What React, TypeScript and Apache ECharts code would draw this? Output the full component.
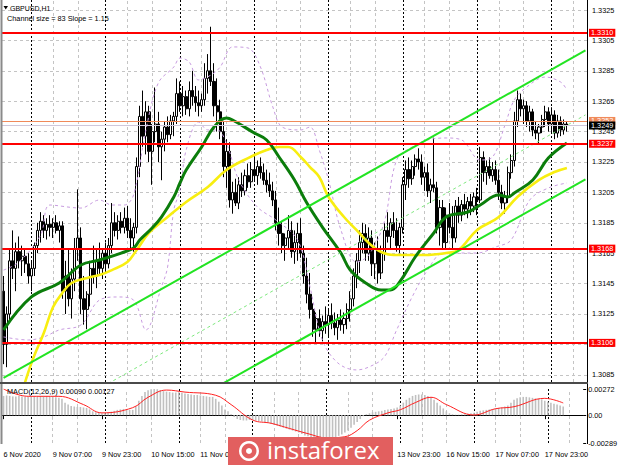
import React, { useEffect, useRef } from "react";
import * as echarts from "echarts";

const FONT = '"Liberation Sans", Arial, sans-serif';

const symbolTitle = "GBPUSD,H1";
const channelInfo = "Channel size = 83 Slope = 1.15";
const macdTitle = "MACD(12,26,9) 0.00090 0.00127";
const brand = "instaforex";

// H1 candles [open, high, low, close], grouped by day
const nov06 = [
  [1.3140, 1.3150, 1.3092, 1.3105], [1.3105, 1.3130, 1.3090, 1.3125], [1.3125, 1.3168, 1.3120, 1.3160],
  [1.3160, 1.3180, 1.3148, 1.3155], [1.3155, 1.3172, 1.3140, 1.3166], [1.3166, 1.3176, 1.3155, 1.3160],
  [1.3160, 1.3170, 1.3150, 1.3163], [1.3163, 1.3168, 1.3152, 1.3158], [1.3158, 1.3165, 1.3145, 1.3150],
];
const nov09 = [
  [1.3150, 1.3160, 1.3140, 1.3155], [1.3155, 1.3172, 1.3150, 1.3170], [1.3170, 1.3185, 1.3165, 1.3180],
  [1.3180, 1.3192, 1.3172, 1.3186], [1.3186, 1.3190, 1.3175, 1.3180], [1.3180, 1.3188, 1.3174, 1.3184],
  [1.3184, 1.3190, 1.3176, 1.3182], [1.3182, 1.3188, 1.3175, 1.3185], [1.3185, 1.3190, 1.3178, 1.3180],
  [1.3180, 1.3186, 1.3172, 1.3183], [1.3183, 1.3186, 1.3135, 1.3140], [1.3140, 1.3160, 1.3125, 1.3150],
  [1.3150, 1.3168, 1.3130, 1.3135], [1.3135, 1.3155, 1.3122, 1.3148], [1.3148, 1.3175, 1.3140, 1.3168],
  [1.3168, 1.3207, 1.3160, 1.3175], [1.3175, 1.3182, 1.3125, 1.3135], [1.3135, 1.3150, 1.3118, 1.3128],
  [1.3128, 1.3140, 1.3115, 1.3138], [1.3138, 1.3160, 1.3130, 1.3155], [1.3155, 1.3170, 1.3145, 1.3150],
  [1.3150, 1.3168, 1.3142, 1.3160], [1.3160, 1.3172, 1.3150, 1.3155], [1.3155, 1.3168, 1.3148, 1.3165],
];
const nov10 = [
  [1.3165, 1.3172, 1.3152, 1.3158], [1.3158, 1.3175, 1.3155, 1.3170], [1.3170, 1.3198, 1.3165, 1.3185],
  [1.3185, 1.3192, 1.3176, 1.3180], [1.3180, 1.3190, 1.3174, 1.3186], [1.3186, 1.3192, 1.3178, 1.3182],
  [1.3182, 1.3195, 1.3178, 1.3188], [1.3188, 1.3196, 1.3175, 1.3180], [1.3180, 1.3188, 1.3168, 1.3175],
  [1.3175, 1.3185, 1.3166, 1.3182], [1.3182, 1.3228, 1.3178, 1.3222], [1.3222, 1.3262, 1.3215, 1.3255],
  [1.3255, 1.3272, 1.3235, 1.3242], [1.3242, 1.3265, 1.3230, 1.3258], [1.3258, 1.3262, 1.3225, 1.3232],
  [1.3232, 1.3250, 1.3210, 1.3245], [1.3245, 1.3274, 1.3238, 1.3250], [1.3250, 1.3258, 1.3225, 1.3235],
  [1.3235, 1.3245, 1.3213, 1.3240], [1.3240, 1.3252, 1.3232, 1.3248], [1.3248, 1.3255, 1.3238, 1.3243],
  [1.3243, 1.3256, 1.3240, 1.3252], [1.3252, 1.3258, 1.3242, 1.3255], [1.3255, 1.3280, 1.3250, 1.3270],
];
const nov11 = [
  [1.3270, 1.3278, 1.3258, 1.3262], [1.3262, 1.3275, 1.3255, 1.3268], [1.3268, 1.3272, 1.3256, 1.3260],
  [1.3260, 1.3278, 1.3255, 1.3272], [1.3272, 1.3285, 1.3262, 1.3268], [1.3268, 1.3275, 1.3258, 1.3264],
  [1.3264, 1.3272, 1.3255, 1.3262], [1.3262, 1.3270, 1.3258, 1.3266], [1.3266, 1.3290, 1.3262, 1.3280],
  [1.3280, 1.3296, 1.3270, 1.3285], [1.3285, 1.3314, 1.3275, 1.3278], [1.3278, 1.3290, 1.3255, 1.3262],
  [1.3262, 1.3280, 1.3245, 1.3258], [1.3258, 1.3266, 1.3240, 1.3245], [1.3245, 1.3252, 1.3215, 1.3222],
  [1.3222, 1.3240, 1.3208, 1.3232], [1.3232, 1.3238, 1.3195, 1.3200], [1.3200, 1.3212, 1.3191, 1.3205],
  [1.3205, 1.3214, 1.3196, 1.3198], [1.3198, 1.3215, 1.3194, 1.3210], [1.3210, 1.3218, 1.3202, 1.3206],
  [1.3206, 1.3220, 1.3203, 1.3216], [1.3216, 1.3224, 1.3208, 1.3212], [1.3212, 1.3225, 1.3208, 1.3220],
];
const nov12 = [
  [1.3220, 1.3228, 1.3212, 1.3216], [1.3216, 1.3226, 1.3210, 1.3222], [1.3222, 1.3228, 1.3214, 1.3218],
  [1.3218, 1.3224, 1.3210, 1.3213], [1.3213, 1.3220, 1.3205, 1.3210], [1.3210, 1.3218, 1.3202, 1.3206],
  [1.3206, 1.3212, 1.3196, 1.3200], [1.3200, 1.3206, 1.3180, 1.3185], [1.3185, 1.3195, 1.3170, 1.3178],
  [1.3178, 1.3186, 1.3165, 1.3170], [1.3170, 1.3178, 1.3160, 1.3175], [1.3175, 1.3190, 1.3168, 1.3180],
  [1.3180, 1.3186, 1.3162, 1.3166], [1.3166, 1.3180, 1.3158, 1.3172], [1.3172, 1.3185, 1.3160, 1.3178],
  [1.3178, 1.3188, 1.3162, 1.3165], [1.3165, 1.3170, 1.3145, 1.3150], [1.3150, 1.3162, 1.3132, 1.3138],
  [1.3138, 1.3152, 1.3122, 1.3128], [1.3128, 1.3132, 1.3110, 1.3115], [1.3115, 1.3126, 1.3106, 1.3122],
  [1.3122, 1.3128, 1.3110, 1.3114], [1.3114, 1.3124, 1.3107, 1.3120], [1.3120, 1.3130, 1.3112, 1.3118],
];
const nov13 = [
  [1.3118, 1.3128, 1.3110, 1.3124], [1.3124, 1.3132, 1.3115, 1.3119], [1.3119, 1.3126, 1.3111, 1.3116],
  [1.3116, 1.3125, 1.3108, 1.3121], [1.3121, 1.3128, 1.3114, 1.3118], [1.3118, 1.3126, 1.3112, 1.3122],
  [1.3122, 1.3132, 1.3115, 1.3128], [1.3128, 1.3140, 1.3120, 1.3135], [1.3135, 1.3155, 1.3130, 1.3150],
  [1.3150, 1.3165, 1.3142, 1.3160], [1.3160, 1.3180, 1.3152, 1.3172], [1.3172, 1.3185, 1.3165, 1.3178],
  [1.3178, 1.3184, 1.3160, 1.3165], [1.3165, 1.3182, 1.3160, 1.3175], [1.3175, 1.3180, 1.3150, 1.3158],
  [1.3158, 1.3172, 1.3148, 1.3168], [1.3168, 1.3176, 1.3145, 1.3152], [1.3152, 1.3170, 1.3148, 1.3165],
  [1.3165, 1.3185, 1.3160, 1.3180], [1.3180, 1.3192, 1.3172, 1.3176], [1.3176, 1.3188, 1.3168, 1.3185],
  [1.3185, 1.3192, 1.3175, 1.3180], [1.3180, 1.3188, 1.3166, 1.3170], [1.3170, 1.3185, 1.3165, 1.3182],
];
const nov16 = [
  [1.3182, 1.3215, 1.3178, 1.3210], [1.3210, 1.3226, 1.3200, 1.3220], [1.3220, 1.3228, 1.3208, 1.3214],
  [1.3214, 1.3226, 1.3210, 1.3222], [1.3222, 1.3230, 1.3216, 1.3227], [1.3227, 1.3234, 1.3220, 1.3225],
  [1.3225, 1.3230, 1.3210, 1.3215], [1.3215, 1.3222, 1.3206, 1.3218], [1.3218, 1.3224, 1.3202, 1.3206],
  [1.3206, 1.3214, 1.3198, 1.3210], [1.3210, 1.3241, 1.3205, 1.3208], [1.3208, 1.3212, 1.3178, 1.3182],
  [1.3182, 1.3200, 1.3170, 1.3195], [1.3195, 1.3200, 1.3168, 1.3172], [1.3172, 1.3195, 1.3168, 1.3190],
  [1.3190, 1.3198, 1.3178, 1.3182], [1.3182, 1.3196, 1.3168, 1.3175], [1.3175, 1.3200, 1.3172, 1.3196],
  [1.3196, 1.3202, 1.3185, 1.3190], [1.3190, 1.3200, 1.3186, 1.3197], [1.3197, 1.3204, 1.3190, 1.3194],
  [1.3194, 1.3202, 1.3188, 1.3199], [1.3199, 1.3204, 1.3190, 1.3196], [1.3196, 1.3205, 1.3192, 1.3202],
];
const nov17 = [
  [1.3202, 1.3208, 1.3190, 1.3200], [1.3200, 1.3235, 1.3198, 1.3228], [1.3228, 1.3232, 1.3212, 1.3218],
  [1.3218, 1.3226, 1.3210, 1.3222], [1.3222, 1.3228, 1.3214, 1.3216], [1.3216, 1.3225, 1.3212, 1.3220],
  [1.3220, 1.3226, 1.3210, 1.3213], [1.3213, 1.3220, 1.3200, 1.3205], [1.3205, 1.3210, 1.3194, 1.3198],
  [1.3198, 1.3206, 1.3191, 1.3202], [1.3202, 1.3222, 1.3198, 1.3218], [1.3218, 1.3230, 1.3214, 1.3226],
  [1.3226, 1.3258, 1.3222, 1.3252], [1.3252, 1.3272, 1.3248, 1.3266], [1.3266, 1.3270, 1.3255, 1.3260],
  [1.3260, 1.3266, 1.3250, 1.3262], [1.3262, 1.3265, 1.3248, 1.3252], [1.3252, 1.3262, 1.3245, 1.3258],
  [1.3258, 1.3260, 1.3242, 1.3246], [1.3246, 1.3252, 1.3240, 1.3244], [1.3244, 1.3250, 1.3237, 1.3248],
  [1.3248, 1.3256, 1.3244, 1.3253], [1.3253, 1.3262, 1.3248, 1.3258], [1.3258, 1.3261, 1.3245, 1.3250],
];
const nov18 = [
  [1.3250, 1.3261, 1.3244, 1.3256], [1.3256, 1.3259, 1.3240, 1.3244], [1.3244, 1.3256, 1.3241, 1.3252],
  [1.3252, 1.3255, 1.3242, 1.3246], [1.3246, 1.3253, 1.3243, 1.3250], [1.3250, 1.3252, 1.3245, 1.3249],
];

// time-axis labels, one every 16 bars starting at the first bar
const timeLabels = [
  "6 Nov 2020", "9 Nov 07:00", "9 Nov 23:00", "10 Nov 15:00", "11 Nov 07:00", "11 Nov 23:00",
  "12 Nov 15:00", "13 Nov 07:00", "13 Nov 23:00", "16 Nov 15:00", "17 Nov 07:00", "17 Nov 23:00",
];
// labels fully covered by the watermark in the picture
const hiddenLabels = [5, 6, 7];
const priceTicks = [1.3085, 1.3105, 1.3125, 1.3145, 1.3165, 1.3185, 1.3205, 1.3225, 1.3245, 1.3265, 1.3285, 1.3305, 1.3325];
const levels = [1.331, 1.3237, 1.3168, 1.3106];
const askPrice = 1.3252;
const bidPrice = 1.3249;
const daySeparators = [9, 33, 57, 81, 105, 129, 153, 177];
const gridBars = [16, 24, 40, 48, 64, 72, 88, 96, 112, 120, 136, 144, 160, 168, 184];

// indicator traces [bar index, price]
const greenMA = [
  [0, 1.31145], [9, 1.31362], [18, 1.31454], [25, 1.31572], [31, 1.31605], [38, 1.31651], [42, 1.31684],
  [44, 1.31737], [48, 1.31816], [51, 1.31888], [55, 1.3202], [57, 1.32112], [59, 1.32197], [64, 1.32349],
  [68, 1.3248], [72, 1.32539], [74, 1.32526], [81, 1.32441], [85, 1.32395], [89, 1.32283], [94, 1.32132],
  [98, 1.3198], [103, 1.31822], [109, 1.31651], [112, 1.31539], [117, 1.31454], [122, 1.31408], [125, 1.31408],
  [128, 1.31461], [133, 1.31625], [139, 1.31783], [143, 1.31888], [150, 1.31921], [154, 1.31967], [160, 1.32033],
  [163, 1.3202], [165, 1.32046], [171, 1.32132], [176, 1.32276], [182, 1.32375],
];
const yellowMA = [
  [6, 1.30737], [8, 1.30868], [10, 1.3098], [13, 1.31125], [16, 1.31296], [19, 1.31388], [22, 1.31454],
  [27, 1.31487], [31, 1.31507], [35, 1.31539], [40, 1.31592], [43, 1.31671], [47, 1.31783], [53, 1.31888],
  [59, 1.31987], [66, 1.32086], [72, 1.32197], [79, 1.32276], [85, 1.32329], [89, 1.32349], [92, 1.32349],
  [96, 1.32283], [99, 1.32217], [102, 1.32151], [105, 1.3202], [110, 1.31888], [114, 1.31803], [118, 1.31717],
  [122, 1.31658], [126, 1.31638], [131, 1.31638], [136, 1.31638], [143, 1.31651], [147, 1.31671], [153, 1.31803],
  [160, 1.31888], [166, 1.3202], [173, 1.32132], [178, 1.32184], [182, 1.32211],
];
const bandUpper = [
  [0, 1.31539], [5, 1.31592], [12, 1.3177], [15, 1.31967], [25, 1.31947], [31, 1.32], [35, 1.31967],
  [39, 1.31967], [42, 1.32033], [46, 1.32461], [50, 1.3277], [55, 1.32875], [57, 1.32934], [60, 1.32908],
  [63, 1.3279], [67, 1.32822], [70, 1.32875], [74, 1.33007], [79, 1.33], [83, 1.32875], [87, 1.32612],
  [90, 1.3248], [96, 1.32461], [99, 1.3248], [102, 1.32329], [105, 1.32132], [109, 1.31803], [114, 1.31592],
  [118, 1.31638], [123, 1.31855], [127, 1.32263], [132, 1.32349], [137, 1.32395], [143, 1.32408], [148, 1.32395],
  [154, 1.32263], [158, 1.32283], [162, 1.32493], [165, 1.32658], [169, 1.32743], [175, 1.32809], [180, 1.32776],
  [182, 1.32724],
];
const bandLower = [
  [0, 1.31099], [8, 1.31079], [13, 1.31099], [18, 1.31145], [25, 1.31178], [31, 1.31342], [37, 1.31362],
  [42, 1.31342], [46, 1.31145], [51, 1.31428], [53, 1.31559], [55, 1.31934], [57, 1.32066], [59, 1.32329],
  [63, 1.32513], [66, 1.32461], [69, 1.32461], [72, 1.32375], [76, 1.32132], [82, 1.31954], [88, 1.31868],
  [95, 1.31737], [99, 1.31428], [103, 1.31079], [108, 1.30928], [114, 1.30882], [118, 1.30901], [123, 1.30967],
  [127, 1.31145], [132, 1.31362], [137, 1.31539], [142, 1.31651], [148, 1.31651], [153, 1.31651], [159, 1.31691],
  [164, 1.31737], [170, 1.32], [176, 1.32079], [182, 1.32112],
];
const channelUpper = [[0, 1.30829], [188, 1.32984]];
const channelMiddle = [[0, 1.30405], [188, 1.3256]];
const channelLower = [[0, 1.2998], [188, 1.32136]];

// MACD main (histogram) per bar, and signal line trace
const macdMain = [
  0.002, 0.00205, 0.002, 0.00195, 0.00195, 0.00198, 0.00195, 0.00192, 0.0019,
  0.0019, 0.00192, 0.00195, 0.00198, 0.002, 0.00198, 0.00195, 0.0019, 0.00185, 0.0018, 0.0017,
  0.0013, 0.0011, 0.00095, 0.0009, 0.00085, 0.00085, 0.0008, 0.00075, 0.0006, 0.0004, 0.0003, 0.00025, 0.0002,
  0.0002, 0.00025, 0.00035, 0.00045, 0.00055, 0.0006, 0.00065, 0.0006, 0.00055, 0.00055, 0.0009, 0.0015, 0.002,
  0.0024, 0.0026, 0.0027, 0.00272, 0.0027, 0.0026, 0.0025, 0.00245, 0.0024, 0.00235,
  0.00235, 0.00238, 0.00232, 0.00225, 0.0022, 0.00215, 0.0021, 0.0021, 0.00205, 0.002, 0.00195, 0.0019, 0.0019,
  0.0017, 0.0014, 0.001, 0.0006, 0.0004, 0.0001, -0.0002, -0.0004, -0.0005,
  -0.00055, -0.00055, -0.0005, -0.0005, -0.00055, -0.0006, -0.00065, -0.0007,
  -0.0008, -0.0009, -0.001, -0.0011, -0.0012, -0.0013, -0.0014,
  -0.0015, -0.0016, -0.0017, -0.0018, -0.00195, -0.0021, -0.0022,
  -0.00235, -0.0025, -0.00265, -0.0028, -0.00285, -0.00275, -0.0026,
  -0.00245, -0.0023, -0.00215, -0.002, -0.0018, -0.0016,
  -0.0013, -0.001, -0.0007, -0.0004, -0.0001, 0.0001, 0.0002, 0.0003, 0.00035, 0.0004, 0.00045, 0.00055,
  0.0006, 0.00065, 0.0007, 0.0008, 0.001, 0.0013, 0.0016, 0.0018, 0.002, 0.0021,
  0.00215, 0.00215, 0.0021, 0.002, 0.0019, 0.0016, 0.0013, 0.001, 0.0007, 0.0004,
  0.0002, 0.0001, 0.00005, 0.00005, 0.00008, 0.0001, 0.00015, 0.0002, 0.00025, 0.00035, 0.00045,
  0.0005, 0.00055, 0.0006, 0.00065, 0.0007, 0.00075, 0.0008, 0.0009, 0.001,
  0.0013, 0.0016, 0.00175, 0.00185, 0.0019, 0.0019, 0.00185, 0.0018, 0.00175, 0.0017, 0.00165,
  0.0015, 0.0014, 0.0013, 0.0012, 0.0011, 0.001, 0.0009,
];
const macdSignal = [
  [0, 0.00272], [8, 0.00196], [18, 0.00196], [26, 0.0011], [32, 0.00024], [42, 0.00078], [47, 0.00186],
  [53, 0.00261], [59, 0.0024], [69, 0.00207], [74, 0.0011], [81, -0.0005], [87, -0.00084], [93, -0.00138],
  [99, -0.00192], [105, -0.00235], [111, -0.00224], [115, -0.0016], [119, -0.00052], [125, 0.00024],
  [129, 0.00056], [134, 0.00132], [139, 0.00186], [144, 0.0011], [153, 0.00002], [160, 0.00067],
  [166, 0.00088], [176, 0.00175], [182, 0.00127],
];

const candles = [...nov06, ...nov09, ...nov10, ...nov11, ...nov12, ...nov13, ...nov16, ...nov17, ...nov18];
const SLOTS = 189;
const categories = Array.from({ length: SLOTS }, (_, i) => String(i));

const showTimeLabel = (i: number) =>
  i % 16 === 0 && i / 16 < timeLabels.length && !hiddenLabels.includes(i / 16);

const vLines = () => [
  ...gridBars.map((b) => ({ xAxis: b, lineStyle: { color: "#c4c4c4", type: [3, 3], width: 1 } })),
  ...daySeparators.map((b) => ({ xAxis: b, lineStyle: { color: "#000000", type: [2, 2], width: 1 } })),
];

function buildOption(): any {
  const labelFont = { fontFamily: FONT, fontSize: 7.3 };
  return {
    animation: false,
    backgroundColor: "#ffffff",
    grid: [
      { left: 2, top: 0, width: 585, height: 382 },
      { left: 2, top: 389, width: 585, height: 54 },
    ],
    xAxis: [
      {
        gridIndex: 0, type: "category", data: categories, boundaryGap: true,
        axisLine: { show: false }, axisTick: { show: false }, axisLabel: { show: false }, splitLine: { show: false },
      },
      {
        gridIndex: 1, type: "category", data: categories, boundaryGap: true,
        axisLine: { show: true, lineStyle: { color: "#000", width: 1 } },
        axisTick: {
          show: true, alignWithLabel: true, length: 4, lineStyle: { color: "#000" },
          interval: (i: number) => showTimeLabel(i),
        },
        axisLabel: {
          show: true, ...labelFont, color: "#000", align: "left", margin: 8,
          interval: (i: number) => showTimeLabel(i),
          formatter: (_v: string, i: number) => timeLabels[i / 16] ?? "",
        },
        splitLine: { show: false },
      },
    ],
    yAxis: [
      {
        gridIndex: 0, type: "value", position: "right", min: 1.308026, max: 1.333158,
        axisLine: { show: false }, axisTick: { show: false }, axisLabel: { show: false }, splitLine: { show: false },
      },
      {
        gridIndex: 1, type: "value", position: "right", min: -0.00289, max: 0.00272, interval: 0.00289,
        axisLine: { show: false }, axisTick: { show: true, length: 3, lineStyle: { color: "#000" } },
        axisLabel: {
          ...labelFont, color: "#000", margin: 5, showMinLabel: true, showMaxLabel: true,
          formatter: (v: number) => (Math.abs(v) < 1e-9 ? "0.00" : v.toFixed(5)),
        },
        splitLine: { show: false },
      },
    ],
    series: [
      {
        type: "line", xAxisIndex: 0, yAxisIndex: 0, data: [], silent: true,
        markLine: {
          z: 1, silent: true, symbol: "none", precision: 6,
          label: { show: false },
          data: [
            ...priceTicks.map((p) => ({
              yAxis: p,
              lineStyle: { color: "#c4c4c4", type: [3, 3], width: 1 },
              label: {
                show: true, position: "end", distance: 5, color: "#000", ...labelFont,
                formatter: () => p.toFixed(4),
              },
            })),
            ...vLines(),
          ],
        },
      },
      {
        type: "line", xAxisIndex: 1, yAxisIndex: 1, data: [], silent: true,
        markLine: { z: 1, silent: true, symbol: "none", precision: 6, label: { show: false }, data: vLines() },
      },
      {
        type: "candlestick", xAxisIndex: 0, yAxisIndex: 0, z: 2, barWidth: 2.6, silent: true,
        data: candles.map(([o, h, l, c]) => [o, c, l, h]),
        itemStyle: { color: "#ffffff", color0: "#000000", borderColor: "#000000", borderColor0: "#000000", borderWidth: 1 },
      },
      ...[bandUpper, bandLower].map((d) => ({
        type: "line", xAxisIndex: 0, yAxisIndex: 0, z: 3, data: d, smooth: 0.35, showSymbol: false, silent: true,
        lineStyle: { color: "#c89ce0", type: [3, 3], width: 1 },
      })),
      {
        type: "line", xAxisIndex: 0, yAxisIndex: 0, z: 4, data: yellowMA, smooth: 0.4, showSymbol: false, silent: true,
        lineStyle: { color: "#f8ee10", width: 2.6 },
      },
      {
        type: "line", xAxisIndex: 0, yAxisIndex: 0, z: 4, data: greenMA, smooth: 0.4, showSymbol: false, silent: true,
        lineStyle: { color: "#0b7d0b", width: 3 },
      },
      {
        type: "line", xAxisIndex: 0, yAxisIndex: 0, z: 5, data: channelMiddle, showSymbol: false, silent: true,
        lineStyle: { color: "#7fe87f", type: [3, 3], width: 1 },
      },
      ...[channelUpper, channelLower].map((d) => ({
        type: "line", xAxisIndex: 0, yAxisIndex: 0, z: 5, data: d, showSymbol: false, silent: true,
        lineStyle: { color: "#22e422", width: 2 },
      })),
      {
        type: "line", xAxisIndex: 0, yAxisIndex: 0, data: [], silent: true,
        markLine: {
          z: 6, silent: true, symbol: "none", precision: 6,
          data: [
            {
              yAxis: askPrice, lineStyle: { color: "#f08a5a", width: 1, type: "solid" },
              label: { show: true, position: "end", distance: 2, color: "#fff", backgroundColor: "#f08a5a", padding: [1, 2, 0, 2], ...labelFont, formatter: () => askPrice.toFixed(4) },
            },
            {
              yAxis: bidPrice, lineStyle: { color: "#cfc8dc", width: 1, type: "solid" },
              label: { show: true, position: "end", distance: 2, color: "#fff", backgroundColor: "#000", padding: [1, 2, 0, 2], ...labelFont, formatter: () => bidPrice.toFixed(4) },
            },
          ],
        },
      },
      {
        type: "line", xAxisIndex: 0, yAxisIndex: 0, data: [], silent: true,
        markLine: {
          z: 7, silent: true, symbol: "none", precision: 6,
          lineStyle: { color: "#ff0000", width: 2, type: "solid" },
          label: {
            show: true, position: "end", distance: 2, color: "#fff", backgroundColor: "#ff0000",
            padding: [1, 2, 0, 2], ...labelFont, formatter: (p: any) => Number(p.value).toFixed(4),
          },
          data: levels.map((v) => ({ yAxis: v })),
        },
      },
      {
        type: "bar", xAxisIndex: 1, yAxisIndex: 1, z: 2, data: macdMain, barWidth: 1.6, silent: true,
        itemStyle: { color: "#c0c0c0" },
      },
      {
        type: "line", xAxisIndex: 1, yAxisIndex: 1, z: 3, data: macdSignal, smooth: 0.4, showSymbol: false, silent: true,
        lineStyle: { color: "#ff2020", width: 1 },
      },
    ],
    graphic: [
      { type: "line", z: 50, shape: { x1: 1.5, y1: 0, x2: 1.5, y2: 444 }, style: { stroke: "#8a8a8a", lineWidth: 2 } },
      { type: "line", z: 50, shape: { x1: 587.5, y1: 0, x2: 587.5, y2: 444 }, style: { stroke: "#000", lineWidth: 1 } },
      { type: "line", z: 50, shape: { x1: 0, y1: 383, x2: 588, y2: 383 }, style: { stroke: "#4a4a4a", lineWidth: 2 } },
      { type: "polygon", z: 50, shape: { points: [[3.5, 6], [8, 6], [5.75, 9.5]] }, style: { fill: "#000" } },
      { type: "text", z: 50, x: 10, y: 8, style: { text: symbolTitle, fill: "#000", fontSize: 7, fontFamily: FONT, verticalAlign: "middle" } },
      { type: "text", z: 50, x: 7, y: 18, style: { text: channelInfo, fill: "#000", fontSize: 7.3, fontFamily: FONT, verticalAlign: "middle" } },
      { type: "text", z: 50, x: 7, y: 391, style: { text: macdTitle, fill: "#000", fontSize: 7.3, fontFamily: FONT, verticalAlign: "middle" } },
      { type: "rect", z: 100, shape: { x: 228, y: 437, width: 165, height: 28 }, style: { fill: "#e25f5f" } },
      { type: "ring", z: 101, shape: { cx: 249, cy: 451, r: 10, r0: 7.5 }, style: { fill: "#ffffff" } },
      { type: "circle", z: 101, shape: { cx: 249, cy: 451, r: 3 }, style: { fill: "#ffffff" } },
      {
        type: "text", z: 101, x: 267, y: 449,
        style: { text: brand, fill: "#ffffff", fontSize: 24, fontFamily: '"Open Sans", sans-serif', verticalAlign: "middle" },
      },
    ],
  };
}

export default function App() {
  const ref = useRef<HTMLDivElement>(null);
  useEffect(() => {
    if (!ref.current) return;
    const chart = echarts.init(ref.current, undefined, { renderer: "svg" });
    chart.setOption(buildOption());
    return () => chart.dispose();
  }, []);
  return (
    <div
      ref={ref}
      style={{ position: "fixed", left: 0, top: 0, width: 620, height: 465, background: "#fff" }}
    />
  );
}
